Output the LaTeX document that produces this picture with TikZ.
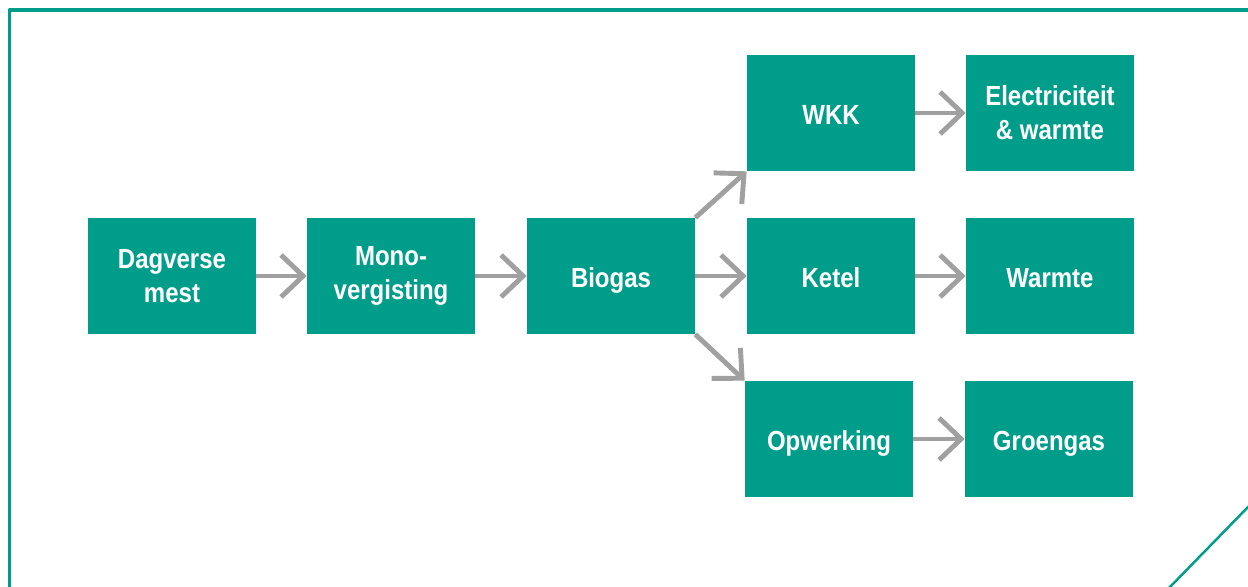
\documentclass[tikz,border=0pt]{standalone}
\usepackage{fontspec}
\setmainfont[FakeStretch=0.87]{Liberation Sans}
\usepackage{xcolor}
\usepackage{tikz}
\usetikzlibrary{arrows.meta}
\definecolor{teal}{HTML}{009E8A}
\definecolor{pijl}{HTML}{A0A0A0}
\tikzset{fig/.style={line join=round},
 blok/.style={fill=teal,text=white,minimum width=3.36cm,minimum height=2.32cm,align=center,inner sep=0pt,
  font=\fontsize{15.7}{19.5}\selectfont\bfseries},
 enkel/.style={blok,text height=13pt,text depth=0pt},
 pl/.style={pijl,line width=2.8pt,-{Straight Barb[length=0.44cm,width=0.84cm]}}}

\begin{document}
\begin{tikzpicture}[fig,x=0.02cm,y=-0.02cm]
 \useasboundingbox (0,0) rectangle (1248,587);
 % kader
 \draw[teal,line width=1.9pt](9.5,590)--(9.5,10)--(1250,10);
 \draw[teal,line width=1.4pt](1250,505)--(1167,590);
 % blokken
 \node[blok](dag)at(172,276){Dagverse\\mest};
 \node[blok](mono)at(391,276){Mono-\\vergisting};
 \node[enkel](bio)at(611,276){Biogas};
 \node[enkel](wkk)at(831,113){WKK};
 \node[enkel](ketel)at(831,276){Ketel};
 \node[enkel](opw)at(829,439){Opwerking};
 \node[blok](elec)at(1050,113){Electriciteit\\\& warmte};
 \node[enkel](warm)at(1050,276){Warmte};
 \node[enkel](groen)at(1049,439){Groengas};
 % pijlen
 \foreach \a/\b in {dag/mono,mono/bio,bio/ketel,wkk/elec,ketel/warm,opw/groen}
  \draw[pl](\a.east)--(\b.west);
 \draw[pl](bio.north east)--(wkk.south west);
 \draw[pl](bio.south east)--(opw.north west);
\end{tikzpicture}
\end{document}
